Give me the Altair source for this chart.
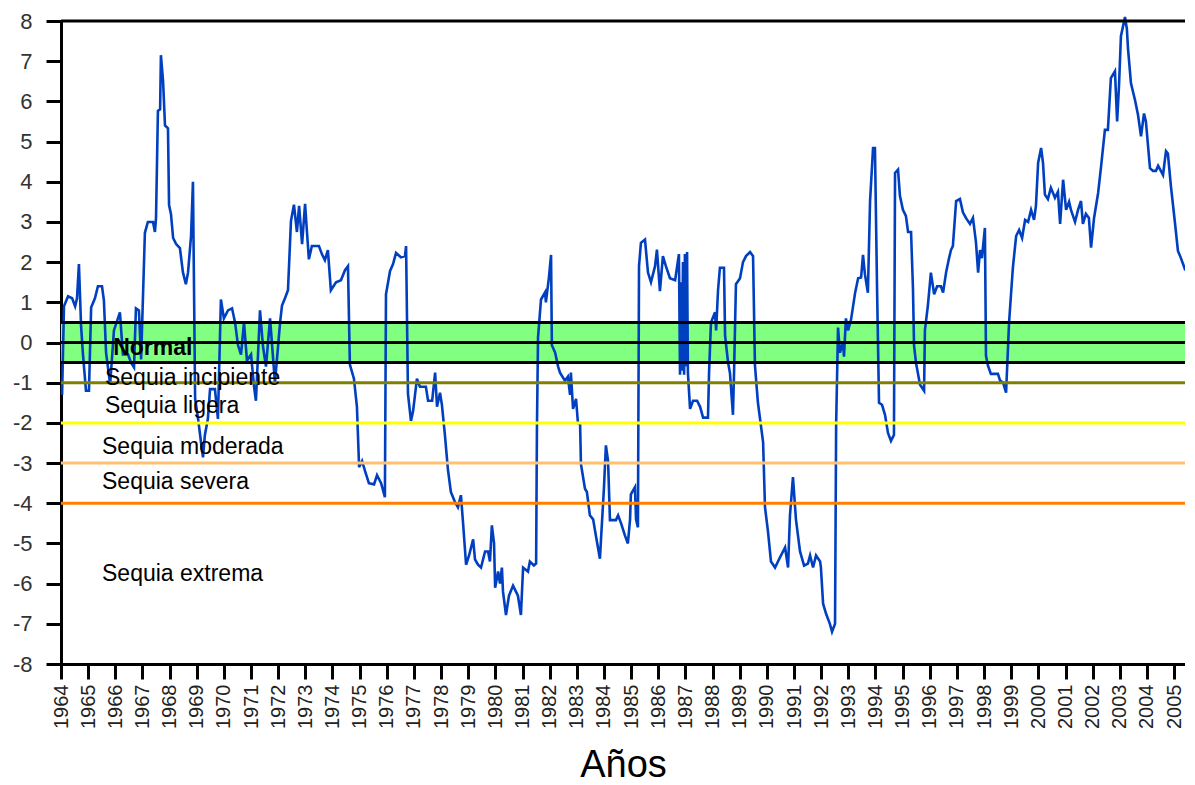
import altair as alt
import pandas as pd

# ---- data (monthly index, approx.) ----
years = [1964.04, 1964.11, 1964.26, 1964.41, 1964.52, 1964.59, 1964.66, 1964.74, 1964.81, 1964.92,
         1965.03, 1965.11, 1965.25, 1965.36, 1965.51, 1965.58, 1965.66, 1965.81, 1965.95, 1966.17,
         1966.28, 1966.47, 1966.58, 1966.69, 1966.76, 1966.87, 1966.95, 1967.09, 1967.20, 1967.39,
         1967.46, 1967.50, 1967.57, 1967.65, 1967.68, 1967.76, 1967.83, 1967.94, 1967.98, 1968.05,
         1968.13, 1968.24, 1968.38, 1968.49, 1968.60, 1968.68, 1968.79, 1968.86, 1968.94, 1969.05,
         1969.16, 1969.23, 1969.30, 1969.41, 1969.49, 1969.67, 1969.78, 1969.89, 1970.00, 1970.15,
         1970.30, 1970.41, 1970.52, 1970.63, 1970.74, 1970.85, 1971.00, 1971.11, 1971.18, 1971.33,
         1971.44, 1971.55, 1971.70, 1971.88, 1972.07, 1972.14, 1972.25, 1972.36, 1972.47, 1972.58,
         1972.69, 1972.77, 1972.88, 1972.99, 1973.06, 1973.13, 1973.24, 1973.50, 1973.61, 1973.72,
         1973.83, 1973.94, 1974.13, 1974.31, 1974.46, 1974.57, 1974.64, 1974.79, 1974.90, 1974.98,
         1975.09, 1975.20, 1975.34, 1975.53, 1975.64, 1975.79, 1975.93, 1975.97, 1976.12, 1976.23,
         1976.34, 1976.52, 1976.67, 1976.71, 1976.78, 1976.89, 1976.97, 1977.11, 1977.22, 1977.44,
         1977.52, 1977.67, 1977.78, 1977.85, 1977.96, 1978.03, 1978.14, 1978.25, 1978.36, 1978.51,
         1978.62, 1978.73, 1978.81, 1978.92, 1979.03, 1979.18, 1979.25, 1979.36, 1979.47, 1979.62,
         1979.73, 1979.80, 1979.87, 1979.95, 1979.99, 1980.10, 1980.17, 1980.24, 1980.28, 1980.39,
         1980.50, 1980.65, 1980.83, 1980.94, 1981.02, 1981.20, 1981.27, 1981.42, 1981.50, 1981.53,
         1981.57, 1981.68, 1981.83, 1981.86, 1981.97, 1982.05, 1982.08, 1982.20, 1982.31, 1982.38,
         1982.56, 1982.67, 1982.75, 1982.78, 1982.86, 1982.97, 1983.04, 1983.12, 1983.15, 1983.30,
         1983.37, 1983.48, 1983.60, 1983.71, 1983.85, 1983.89, 1984.00, 1984.07, 1984.15, 1984.22,
         1984.44, 1984.52, 1984.63, 1984.77, 1984.88, 1984.96, 1984.99, 1985.14, 1985.18, 1985.25,
         1985.29, 1985.36, 1985.51, 1985.62, 1985.73, 1985.88, 1985.95, 1986.06, 1986.17, 1986.28,
         1986.43, 1986.62, 1986.76, 1986.80, 1986.84, 1986.87, 1986.91, 1986.95, 1986.98, 1987.02,
         1987.06, 1987.09, 1987.17, 1987.28, 1987.43, 1987.54, 1987.65, 1987.83, 1987.87, 1987.94,
         1988.09, 1988.13, 1988.20, 1988.27, 1988.42, 1988.46, 1988.57, 1988.64, 1988.75, 1988.79,
         1988.86, 1989.01, 1989.12, 1989.23, 1989.38, 1989.49, 1989.56, 1989.67, 1989.86, 1989.93,
         1990.04, 1990.15, 1990.30, 1990.48, 1990.67, 1990.78, 1990.85, 1990.96, 1991.07, 1991.22,
         1991.37, 1991.51, 1991.59, 1991.70, 1991.81, 1991.96, 1991.99, 1992.07, 1992.18, 1992.32,
         1992.40, 1992.51, 1992.55, 1992.62, 1992.69, 1992.80, 1992.84, 1992.91, 1992.99, 1993.10,
         1993.25, 1993.36, 1993.47, 1993.54, 1993.61, 1993.72, 1993.80, 1993.91, 1993.98, 1994.06,
         1994.13, 1994.24, 1994.35, 1994.46, 1994.57, 1994.68, 1994.72, 1994.83, 1994.90, 1995.01,
         1995.12, 1995.20, 1995.31, 1995.38, 1995.42, 1995.49, 1995.64, 1995.79, 1995.82, 1995.93,
         1996.04, 1996.16, 1996.27, 1996.41, 1996.49, 1996.60, 1996.71, 1996.78, 1996.85, 1996.97,
         1997.11, 1997.22, 1997.33, 1997.48, 1997.59, 1997.70, 1997.78, 1997.85, 1997.92, 1998.03,
         1998.07, 1998.14, 1998.25, 1998.51, 1998.59, 1998.70, 1998.81, 1998.92, 1999.06, 1999.18,
         1999.29, 1999.40, 1999.51, 1999.62, 1999.73, 1999.84, 1999.91, 1999.99, 2000.10, 2000.17,
         2000.24, 2000.35, 2000.46, 2000.61, 2000.72, 2000.80, 2000.91, 2001.02, 2001.13, 2001.20,
         2001.35, 2001.46, 2001.57, 2001.64, 2001.75, 2001.86, 2001.94, 2002.05, 2002.20, 2002.31,
         2002.45, 2002.56, 2002.67, 2002.82, 2002.90, 2002.97, 2003.04, 2003.19, 2003.26, 2003.30,
         2003.41, 2003.56, 2003.67, 2003.78, 2003.89, 2003.96, 2004.11, 2004.22, 2004.33, 2004.41,
         2004.59, 2004.70, 2004.77, 2004.88, 2005.03, 2005.14, 2005.25, 2005.40, 2005.51]

spi = [-1.3, 0.9, 1.15, 1.1, 0.9, 1.1, 1.95, 0.4, -0.3, -1.2,
       -1.2, 0.87, 1.1, 1.4, 1.4, 1.05, -0.25, -1.04, 0.3, 0.75,
       -0.3, -0.3, -0.5, -0.62, 0.85, 0.8, -0.42, 2.73, 3.0, 3.0,
       2.75, 3.1, 5.76, 5.8, 7.15, 6.5, 5.4, 5.33, 3.42, 3.2,
       2.6, 2.45, 2.35, 1.75, 1.45, 1.75, 2.65, 4.0, -1.4, -1.9,
       -2.5, -2.86, -2.3, -1.9, -1.16, -1.16, -1.9, 1.07, 0.6, 0.8,
       0.85, 0.5, -0.07, -0.3, 0.5, -0.45, -0.3, -1.1, -1.45, 0.8,
       -0.1, -0.6, 0.6, -1.0, 0.5, 0.92, 1.1, 1.3, 3.02, 3.43,
       2.75, 3.4, 2.45, 3.45, 2.75, 2.07, 2.4, 2.4, 2.2, 2.05,
       2.3, 1.3, 1.5, 1.55, 1.8, 1.9, -0.55, -0.9, -1.6, -3.1,
       -2.95, -3.2, -3.5, -3.53, -3.3, -3.5, -3.85, 1.2, 1.78, 1.95,
       2.23, 2.12, 2.15, 2.4, -1.28, -1.95, -1.7, -0.9, -1.1, -1.1,
       -1.45, -1.45, -0.75, -1.6, -1.25, -1.55, -2.3, -3.15, -3.72, -3.97,
       -4.1, -3.8, -4.5, -5.53, -5.3, -4.9, -5.4, -5.53, -5.6, -5.2,
       -5.2, -5.45, -4.55, -5.0, -6.1, -5.7, -6.0, -5.6, -6.2, -6.78,
       -6.3, -6.05, -6.3, -6.78, -5.6, -5.7, -5.45, -5.55, -5.5, -2.15,
       0.12, 1.07, 1.25, 1.0, 1.61, 2.18, -0.07, -0.25, -0.6, -0.75,
       -0.95, -0.85, -1.3, -0.75, -1.65, -1.4, -2.0, -2.03, -3.02, -3.64,
       -3.72, -4.3, -4.4, -4.84, -5.38, -4.9, -3.6, -2.56, -2.95, -4.42,
       -4.42, -4.3, -4.5, -4.8, -5.0, -4.4, -3.78, -3.6, -4.4, -4.6,
       1.9, 2.48, 2.56, 1.74, 1.5, 1.9, 2.31, 1.28, 2.15, 1.9,
       1.6, 1.55, 2.2, -0.8, 1.5, -0.7, 2.0, -0.8, 2.2, -0.6,
       2.25, -0.75, -1.65, -1.45, -1.45, -1.6, -1.87, -1.87, -0.75, 0.5,
       0.75, 0.3, 1.3, 1.86, 1.86, 0.17, -0.5, -0.76, -1.8, -0.75,
       1.45, 1.6, 2.0, 2.15, 2.25, 2.15, -0.57, -1.5, -2.48, -4.1,
       -4.7, -5.45, -5.6, -5.35, -5.1, -5.6, -4.3, -3.35, -4.4, -5.2,
       -5.55, -5.5, -5.3, -5.6, -5.3, -5.45, -5.6, -6.5, -6.75, -7.0,
       -7.2, -7.0, -2.06, 0.37, -0.25, 0.0, -0.35, 0.6, 0.3, 0.57,
       1.24, 1.6, 1.62, 2.18, 1.7, 1.24, 3.52, 4.84, 4.84, 1.24,
       -1.5, -1.55, -1.8, -2.25, -2.45, -2.3, 4.22, 4.3, 3.65, 3.3,
       3.15, 2.75, 2.75, 1.35, -0.07, -0.5, -1.05, -1.2, 0.3, 0.92,
       1.74, 1.2, 1.4, 1.4, 1.24, 1.74, 2.1, 2.3, 2.4, 3.52,
       3.57, 3.24, 3.1, 2.95, 3.1, 2.5, 1.74, 2.3, 2.1, 2.85,
       -0.33, -0.57, -0.78, -0.78, -0.95, -1.0, -1.25, 0.5, 1.86, 2.65,
       2.8, 2.6, 3.05, 3.0, 3.3, 3.05, 3.4, 4.47, 4.84, 4.47,
       3.68, 3.57, 3.85, 3.6, 3.75, 2.95, 4.05, 3.3, 3.5, 3.3,
       3.0, 3.3, 3.52, 2.95, 3.2, 3.1, 2.36, 3.1, 3.72, 4.39,
       5.29, 5.29, 6.58, 6.75, 5.5, 6.4, 7.62, 8.1, 7.8, 7.32,
       6.45, 6.03, 5.66, 5.13, 5.7, 5.5, 4.34, 4.27, 4.27, 4.4,
       4.17, 4.76, 4.7, 3.9, 2.98, 2.28, 2.1, 1.82, 1.82]

tick_years = list(range(1964, 2006))
y_ticks = list(range(-8, 9))

level_values = [8, 0.5, 0, -0.5, -1, -2, -3, -4]
level_colors = ["#000000", "#000000", "#000000", "#000000",
                "#808000", "#FFFF00", "#FFC070", "#FF8000"]

label_texts = ["Normal", "Sequia incipiente", "Sequia ligera",
               "Sequia moderada", "Sequia severa", "Sequia extrema"]
label_x = [1965.92, 1965.62, 1965.62, 1965.51, 1965.51, 1965.51]
label_y = [-0.31, -1.05, -1.75, -2.78, -3.65, -5.94]

band_lo = [-0.5]
band_hi = [0.5]

# ---- chart ----
W = 1124
H = 643
FONT = "Liberation Sans"

series = pd.DataFrame({"year": years, "spi": spi})
levels = pd.DataFrame({"level": level_values, "color": level_colors})
labels = pd.DataFrame({"text": label_texts, "x": label_x, "y": label_y})
band = pd.DataFrame({"lo": band_lo, "hi": band_hi})

xscale = alt.Scale(domain=[1964, 2005.4], nice=False, zero=False)
yscale = alt.Scale(domain=[-8, 8], nice=False, zero=False)

x_axis = alt.Axis(values=tick_years, format="d", labelAngle=270,
                  labelFontSize=20, labelFont=FONT, labelColor="#222",
                  labelPadding=5, tickSize=15, tickWidth=3, tickColor="black",
                  domainColor="black", domainWidth=3, grid=False,
                  labelOverlap=False, labelFlush=False,
                  title="Años", titleFont=FONT, titleFontSize=38,
                  titleFontWeight="normal", titleColor="black",
                  titleBaseline="alphabetic", titleY=112)
y_axis = alt.Axis(values=y_ticks,
                  labelExpr="datum.value < 0 ? '-' + abs(datum.value) : '' + datum.value",
                  labelFontSize=22, labelFont=FONT, labelColor="#333",
                  labelPadding=14, tickSize=15, tickWidth=3, tickColor="black",
                  domainColor="black", domainWidth=3, grid=False, title=None,
                  labelOverlap=False)

band_layer = alt.Chart(band).mark_rect(color="#80FF80").encode(
    y=alt.Y("lo:Q", scale=yscale, axis=y_axis),
    y2="hi:Q",
    x=alt.value(0),
    x2=alt.value(W),
)

line_layer = alt.Chart(series).mark_line(color="#0040C0", strokeWidth=2.6, clip=False).encode(
    x=alt.X("year:Q", scale=xscale, axis=x_axis),
    y=alt.Y("spi:Q", scale=yscale, axis=y_axis),
)

rule_layer = alt.Chart(levels).mark_rule(strokeWidth=3).encode(
    y=alt.Y("level:Q", scale=yscale, axis=y_axis),
    x=alt.value(0),
    x2=alt.value(W),
    color=alt.Color("color:N", scale=None),
)

normal_layer = alt.Chart(labels.iloc[:1]).mark_text(
    align="left", baseline="alphabetic", fontSize=23, font=FONT, color="black",
    fontWeight="bold"
).encode(
    x=alt.X("x:Q", scale=xscale, axis=x_axis),
    y=alt.Y("y:Q", scale=yscale, axis=y_axis),
    text="text:N",
)

text_layer = alt.Chart(labels.iloc[1:]).mark_text(
    align="left", baseline="alphabetic", fontSize=23, font=FONT, color="black"
).encode(
    x=alt.X("x:Q", scale=xscale, axis=x_axis),
    y=alt.Y("y:Q", scale=yscale, axis=y_axis),
    text="text:N",
)

chart = alt.layer(band_layer, line_layer, rule_layer, normal_layer, text_layer).properties(
    width=W, height=H,
    background="white",
    autosize=alt.AutoSizeParams(type="none"),
    padding={"left": 53, "top": 13, "right": 0, "bottom": 121},
).configure_view(stroke=None)

chart.save("out.html", embed_options={"renderer": "svg", "actions": False})
